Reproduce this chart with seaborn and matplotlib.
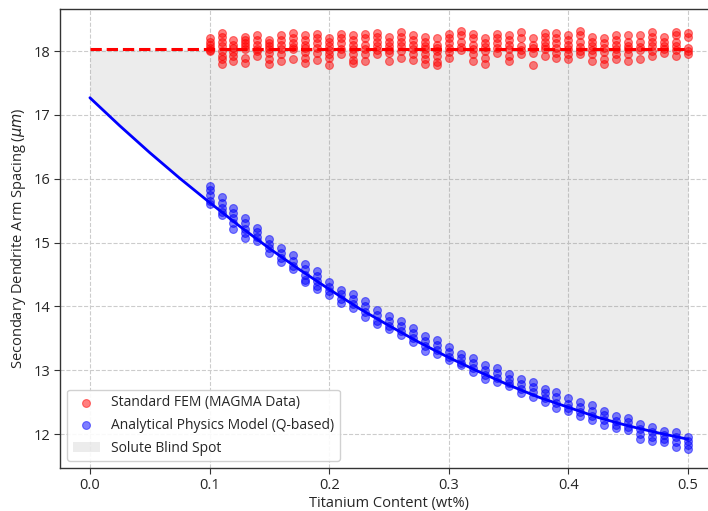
import numpy as np
import pandas as pd
import matplotlib
matplotlib.use("Agg")
import matplotlib.pyplot as plt
import seaborn as sns

# ---- data ----
col_x = [0.10, 0.11, 0.12, 0.13, 0.14, 0.15, 0.16, 0.17, 0.18, 0.19,
         0.20, 0.21, 0.22, 0.23, 0.24, 0.25, 0.26, 0.27, 0.28, 0.29,
         0.30, 0.31, 0.32, 0.33, 0.34, 0.35, 0.36, 0.37, 0.38, 0.39,
         0.40, 0.41, 0.42, 0.43, 0.44, 0.45, 0.46, 0.47, 0.48, 0.49, 0.50]

fem_values = [
    [18.20, 18.15, 18.10, 18.05, 18.02, 18.00],
    [18.28, 18.22, 18.15, 18.08, 18.00, 17.93, 17.87, 17.80],
    [18.17, 18.10, 18.05, 17.98, 17.92, 17.85],
    [18.22, 18.18, 18.12, 18.08, 18.03, 17.90, 17.82],
    [18.25, 18.18, 18.10, 18.04, 18.00, 17.93],
    [18.17, 18.12, 18.08, 18.03, 17.97, 17.88, 17.80],
    [18.25, 18.18, 18.10, 18.03, 17.95, 17.85],
    [18.28, 18.20, 18.12, 18.06, 18.03, 17.88],
    [18.25, 18.18, 18.10, 18.05, 17.98, 17.90, 17.82],
    [18.27, 18.20, 18.12, 18.05, 17.97, 17.86],
    [18.20, 18.15, 18.08, 18.02, 17.96, 17.90, 17.78],
    [18.27, 18.20, 18.12, 18.04, 17.96],
    [18.25, 18.18, 18.10, 18.03, 17.95, 17.86, 17.82],
    [18.27, 18.20, 18.10, 18.03, 17.95, 17.85],
    [18.28, 18.22, 18.15, 18.08, 18.02, 17.95],
    [18.22, 18.15, 18.08, 18.02, 17.97, 17.85],
    [18.30, 18.22, 18.15, 18.08, 18.00, 17.90],
    [18.25, 18.18, 18.10, 18.03, 17.96, 17.86],
    [18.22, 18.15, 18.08, 18.03, 17.95, 17.88, 17.80],
    [18.20, 18.10, 18.05, 18.00, 17.92, 17.83, 17.78],
    [18.27, 18.20, 18.12, 18.05, 17.98, 17.90],
    [18.32, 18.25, 18.15, 18.07, 18.02],
    [18.27, 18.20, 18.10, 18.03, 17.95, 17.85],
    [18.20, 18.13, 18.06, 18.00, 17.90, 17.80],
    [18.27, 18.20, 18.12, 18.05, 17.97],
    [18.25, 18.17, 18.10, 18.03, 17.92, 17.85],
    [18.30, 18.20, 18.08, 18.02, 17.95],
    [18.20, 18.10, 18.05, 17.97, 17.78],
    [18.28, 18.22, 18.15, 18.08, 18.03, 17.92],
    [18.28, 18.20, 18.12, 18.05, 17.97, 17.90],
    [18.25, 18.18, 18.10, 18.03, 17.95, 17.87],
    [18.32, 18.25, 18.15, 18.07, 18.00, 17.95],
    [18.22, 18.15, 18.08, 18.02, 17.95, 17.85],
    [18.20, 18.12, 18.05, 17.98, 17.88, 17.80],
    [18.25, 18.17, 18.10, 18.03, 17.95, 17.87],
    [18.25, 18.15, 18.08, 18.03, 17.95, 17.85],
    [18.25, 18.15, 18.07, 18.02, 17.87],
    [18.30, 18.22, 18.15, 18.08, 18.00, 17.92],
    [18.22, 18.15, 18.08, 18.03, 17.97],
    [18.30, 18.25, 18.15, 18.08, 18.02, 17.93],
    [18.28, 18.22, 18.05, 18.00, 17.95],
]

model_values = [
    [15.88, 15.82, 15.74, 15.66, 15.60],
    [15.71, 15.62, 15.55, 15.48, 15.43],
    [15.55, 15.46, 15.38, 15.30, 15.22],
    [15.38, 15.30, 15.22, 15.15, 15.07],
    [15.23, 15.16, 15.09, 15.02],
    [15.06, 14.98, 14.91, 14.84],
    [14.92, 14.84, 14.76, 14.69],
    [14.80, 14.72, 14.64, 14.58],
    [14.66, 14.58, 14.50, 14.42, 14.38],
    [14.56, 14.48, 14.40, 14.32, 14.28],
    [14.38, 14.30, 14.24, 14.18],
    [14.26, 14.19, 14.12, 14.06],
    [14.20, 14.12, 14.04, 13.97],
    [14.08, 14.00, 13.92, 13.84],
    [13.94, 13.86, 13.78, 13.72],
    [13.85, 13.77, 13.70, 13.65],
    [13.78, 13.70, 13.62, 13.55],
    [13.66, 13.58, 13.51, 13.45],
    [13.54, 13.46, 13.38, 13.30],
    [13.47, 13.40, 13.32, 13.25],
    [13.36, 13.28, 13.21, 13.16],
    [13.26, 13.19, 13.12, 13.08],
    [13.20, 13.12, 13.04, 12.97],
    [13.08, 13.00, 12.93, 12.87],
    [13.04, 12.96, 12.88, 12.82],
    [12.95, 12.87, 12.80, 12.76],
    [12.86, 12.78, 12.70, 12.64],
    [12.82, 12.74, 12.66, 12.59],
    [12.71, 12.64, 12.57, 12.51],
    [12.66, 12.58, 12.49, 12.41],
    [12.56, 12.48, 12.41, 12.36],
    [12.50, 12.42, 12.34, 12.28],
    [12.45, 12.37, 12.29, 12.22],
    [12.37, 12.30, 12.22, 12.14],
    [12.29, 12.21, 12.14, 12.09],
    [12.26, 12.19, 12.12, 12.06],
    [12.16, 12.08, 12.00, 11.93],
    [12.11, 12.03, 11.96, 11.90],
    [12.05, 11.98, 11.92, 11.88],
    [12.03, 11.95, 11.87, 11.80],
    [11.96, 11.90, 11.83, 11.77],
]

curve_x = [0.0, 0.025, 0.05, 0.075, 0.1, 0.125, 0.15, 0.175, 0.2, 0.225, 0.25,
           0.275, 0.3, 0.325, 0.35, 0.375, 0.4, 0.425, 0.45, 0.475, 0.5]
model_curve = [17.27, 16.83, 16.41, 16.01, 15.63, 15.26, 14.91, 14.58, 14.27,
               13.97, 13.70, 13.44, 13.20, 12.98, 12.77, 12.58, 12.42, 12.26,
               12.13, 12.02, 11.92]
fem_curve = [18.03] * len(curve_x)

# ---- tables ----
fem_df = pd.DataFrame([(x, v) for x, vals in zip(col_x, fem_values) for v in vals],
                      columns=["Ti", "SDAS"])
model_df = pd.DataFrame([(x, v) for x, vals in zip(col_x, model_values) for v in vals],
                        columns=["Ti", "SDAS"])
curve_df = pd.DataFrame({"Ti": curve_x, "model": model_curve, "fem": fem_curve})

# ---- plot ----
sns.set_style("ticks")
plt.rcParams["font.family"] = ["Open Sans", "DejaVu Sans"]

fig = plt.figure(figsize=(7.08, 5.11), dpi=100)
ax = fig.add_axes([60 / 708, 43 / 511, 658 / 708, 459 / 511])

ax.fill_between(curve_df["Ti"], curve_df["model"], curve_df["fem"],
                color="gray", alpha=0.15, label="Solute Blind Spot", linewidth=0, zorder=1)

sns.scatterplot(data=fem_df, x="Ti", y="SDAS", color="red", alpha=0.5, s=32,
                edgecolor="red", linewidth=0.8, label="Standard FEM (MAGMA Data)", ax=ax, zorder=3)
sns.scatterplot(data=model_df, x="Ti", y="SDAS", color="blue", alpha=0.5, s=32,
                edgecolor="blue", linewidth=0.8, label="Analytical Physics Model (Q-based)", ax=ax, zorder=3)

sns.lineplot(data=curve_df, x="Ti", y="fem", color="red", linestyle="--", linewidth=2.2,
             ax=ax, zorder=4, label="_nolegend_")
sns.lineplot(data=curve_df, x="Ti", y="model", color="blue", linewidth=2.0,
             ax=ax, zorder=4, label="_nolegend_")

ax.set_xlim(-0.025, 0.525)
ax.set_ylim(11.47, 18.66)
ax.set_xticks([0.0, 0.1, 0.2, 0.3, 0.4, 0.5])
ax.set_yticks([12, 13, 14, 15, 16, 17, 18])
ax.grid(True, linestyle="--", color="#cccccc", linewidth=0.8)
ax.set_axisbelow(True)

ax.set_xlabel("Titanium Content (wt%)", fontsize=10.5, labelpad=2)
ax.set_ylabel(r"Secondary Dendrite Arm Spacing ($\mu m$)", fontsize=10.5, labelpad=4)
ax.tick_params(labelsize=10.5, length=4, color="#333333", pad=3)
for s in ax.spines.values():
    s.set_color("#333333")
    s.set_linewidth(1.0)
ax.spines["right"].set_visible(False)

h, l = ax.get_legend_handles_labels()
order = ["Standard FEM (MAGMA Data)", "Analytical Physics Model (Q-based)", "Solute Blind Spot"]
hh = [h[l.index(o)] for o in order]
ax.legend(hh, order, loc="lower left", fontsize=10, frameon=True, framealpha=0.9,
          bbox_to_anchor=(0.0, 0.0), borderaxespad=0.5, labelspacing=0.55)

fig.savefig("out.png", dpi=100)
